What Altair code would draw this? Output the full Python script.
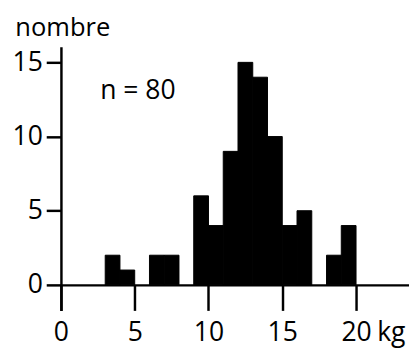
import altair as alt
import pandas as pd

bin_start = [3, 4, 6, 7, 9, 10, 11, 12, 13, 14, 15, 16, 18, 19]
counts = [2, 1, 2, 2, 6, 4, 9, 15, 14, 10, 4, 5, 2, 4]
x_ticks = [0, 5, 10, 15, 20]
y_ticks = [0, 5, 10, 15]

df = pd.DataFrame({"start": bin_start, "end": [s + 1 for s in bin_start], "count": counts})

FONT = "Open Sans"
FS = 27

x_scale = alt.Scale(domain=[0, 23.59], nice=False, zero=False)
y_scale = alt.Scale(domain=[-1.72, 16.06], nice=False, zero=False)

bars = alt.Chart(df).mark_bar(color="black", stroke="black", strokeWidth=1).encode(
    x=alt.X("start:Q", scale=x_scale, axis=alt.Axis(
        values=x_ticks, orient="bottom", offset=-26, tickSize=26, tickWidth=2.5,
        domainWidth=2.5, domainColor="black", tickColor="black", grid=False,
        labelFont=FONT, labelFontSize=FS, labelColor="black", labelPadding=10,
        labelFlush=False, labelOverlap=False,
        title="kg", titleFont=FONT, titleFontSize=FS, titleFontWeight="normal",
        titleColor="black", titleX=322, titleY=57, titleAlign="left",
        titleBaseline="alphabetic")),
    x2="end:Q",
    y=alt.Y("count:Q", scale=y_scale, axis=alt.Axis(
        values=y_ticks, orient="left", tickSize=15, tickWidth=2.5, domainWidth=2.5,
        domainColor="black", tickColor="black", grid=False,
        labelFont=FONT, labelFontSize=FS, labelColor="black", labelPadding=4,
        labelFlush=False, labelOverlap=False,
        title="nombre", titleFont=FONT, titleFontSize=26, titleFontWeight="normal",
        titleColor="black", titleAngle=0, titleX=-47, titleY=-11, titleAlign="left",
        titleBaseline="alphabetic")),
    y2=alt.datum(0),
)

label = alt.Chart(pd.DataFrame({"t": ["n = 80"]})).mark_text(
    font=FONT, fontSize=FS, color="black", align="left", baseline="alphabetic"
).encode(x=alt.value(40), y=alt.value(53), text="t:N")

chart = (bars + label).properties(
    width=355, height=269,
    autosize=alt.AutoSizeParams(type="none"),
    padding={"left": 54, "top": 36, "right": 0, "bottom": 38},
).configure_view(stroke=None)

chart.save("out.html", embed_options={"renderer": "svg", "actions": False})
